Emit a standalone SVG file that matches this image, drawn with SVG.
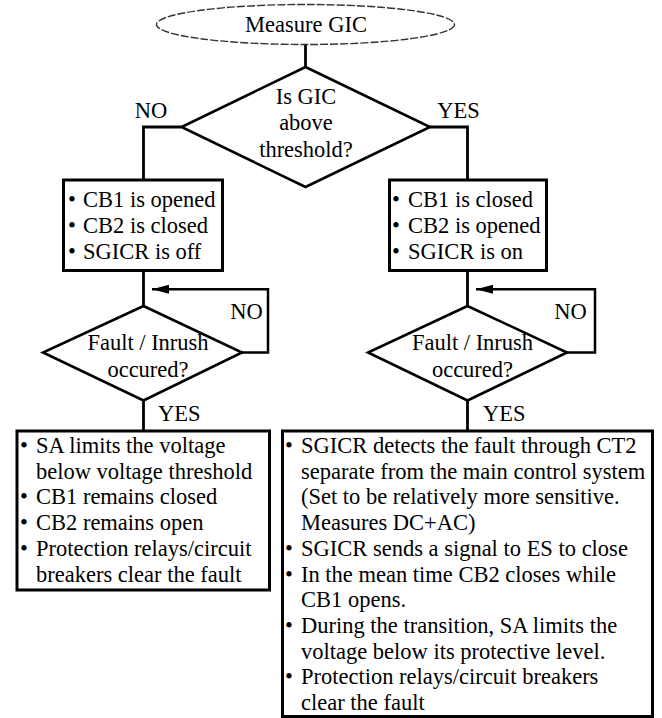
<svg xmlns="http://www.w3.org/2000/svg" width="662" height="718" viewBox="0 0 662 718">
  <style>
    text { font-family: "Liberation Serif", "Times New Roman", serif; font-size: 22.5px; fill: #000; }
    .c { text-anchor: middle; }
    .box { fill: #fff; stroke: #000; stroke-width: 3; }
    .dia { fill: #fff; stroke: #000; stroke-width: 2.6; stroke-linejoin: miter; }
    .wire { fill: none; stroke: #000; stroke-width: 2.8; }
    .loop { fill: none; stroke: #000; stroke-width: 2.5; marker-end: url(#arr); }
  </style>
  <defs>
    <marker id="arr" markerUnits="userSpaceOnUse" markerWidth="18" markerHeight="10" refX="17" refY="4.5" orient="auto">
      <path d="M0,0 L17,4.5 L0,9 z" fill="#000"/>
    </marker>
  </defs>
  <rect width="662" height="718" fill="#fff"/>

  <g id="connectors">
    <path class="wire" d="M305.5,44.5 V67"/>
    <path class="wire" d="M181.5,127 H143.5 V180"/>
    <path class="wire" d="M430,127 H467.5 V180"/>
    <path class="wire" d="M143.5,270.5 V306"/>
    <path class="wire" d="M467.5,270.5 V306"/>
    <path class="loop" d="M242,352.5 H268 V289.3 H152"/>
    <path class="loop" d="M567,352.5 H595 V289.3 H476"/>
    <path class="wire" d="M143.5,400.5 V431"/>
    <path class="wire" d="M467.5,400.5 V431"/>
    <text class="c" x="151" y="118">NO</text>
    <text class="c" x="458.5" y="118">YES</text>
    <text class="c" x="246.5" y="319">NO</text>
    <text class="c" x="570.5" y="319">NO</text>
    <text x="158" y="421">YES</text>
    <text x="483" y="421">YES</text>
  </g>

  <g id="start">
    <ellipse cx="305.5" cy="24.5" rx="149" ry="20" fill="#fff" stroke="#333" stroke-width="1.4" stroke-dasharray="8 2"/>
    <text class="c" x="306" y="32">Measure GIC</text>
  </g>

  <g id="decision-gic">
    <polygon class="dia" points="305.5,67 430,127 305.5,187 181.5,127"/>
    <text class="c" x="306" y="104">Is GIC</text>
    <text class="c" x="306" y="130">above</text>
    <text class="c" x="306" y="156.5">threshold?</text>
  </g>

  <g id="state-no">
    <rect class="box" x="63.5" y="180" width="159" height="90.5"/>
    <text class="c" x="72" y="207">•</text><text x="83" y="207">CB1 is opened</text>
    <text class="c" x="72" y="233">•</text><text x="83" y="233">CB2 is closed</text>
    <text class="c" x="72" y="259">•</text><text x="83" y="259">SGICR is off</text>
  </g>

  <g id="state-yes">
    <rect class="box" x="389.5" y="180" width="157" height="90.5"/>
    <text class="c" x="396" y="207">•</text><text x="408" y="207">CB1 is closed</text>
    <text class="c" x="396" y="233">•</text><text x="408" y="233">CB2 is opened</text>
    <text class="c" x="396" y="259">•</text><text x="408" y="259">SGICR is on</text>
  </g>

  <g id="fault-left">
    <polygon class="dia" points="143.5,306 242,352.5 143.5,400.5 43,352.5"/>
    <text class="c" x="148" y="350">Fault / Inrush</text>
    <text class="c" x="148" y="377">occured?</text>
  </g>

  <g id="fault-right">
    <polygon class="dia" points="467.5,306 567,352.5 467.5,400.5 368,352.5"/>
    <text class="c" x="472.5" y="350">Fault / Inrush</text>
    <text class="c" x="472.5" y="377">occured?</text>
  </g>

  <g id="action-left">
    <rect class="box" x="17" y="431" width="252.5" height="159"/>
    <text class="c" x="24" y="453">•</text><text x="36" y="453">SA limits the voltage</text>
    <text x="36" y="478.7">below voltage threshold</text>
    <text class="c" x="24" y="504.4">•</text><text x="36" y="504.4">CB1 remains closed</text>
    <text class="c" x="24" y="530.1">•</text><text x="36" y="530.1">CB2 remains open</text>
    <text class="c" x="24" y="555.8">•</text><text x="36" y="555.8">Protection relays/circuit</text>
    <text x="36" y="581.5">breakers clear the fault</text>
  </g>

  <g id="action-right">
    <rect class="box" x="282.5" y="431" width="370" height="285.5"/>
    <text class="c" x="289" y="453">•</text><text x="301" y="453">SGICR detects the fault through CT2</text>
    <text x="301" y="478.7">separate from the main control system</text>
    <text x="301" y="504.4">(Set to be relatively more sensitive.</text>
    <text x="301" y="530.1">Measures DC+AC)</text>
    <text class="c" x="289" y="555.8">•</text><text x="301" y="555.8">SGICR sends a signal to ES to close</text>
    <text class="c" x="289" y="581.5">•</text><text x="301" y="581.5">In the mean time CB2 closes while</text>
    <text x="301" y="607.2">CB1 opens.</text>
    <text class="c" x="289" y="632.9">•</text><text x="301" y="632.9">During the transition, SA limits the</text>
    <text x="301" y="658.6">voltage below its protective level.</text>
    <text class="c" x="289" y="684.3">•</text><text x="301" y="684.3">Protection relays/circuit breakers</text>
    <text x="301" y="710">clear the fault</text>
  </g>
</svg>
